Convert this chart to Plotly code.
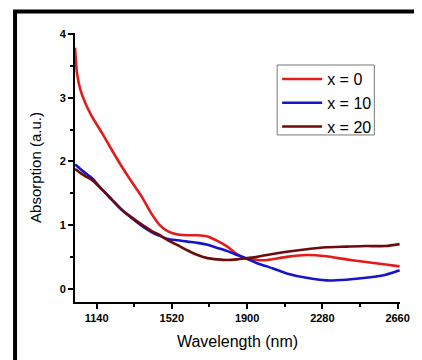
import plotly.graph_objects as go

wavelength = [1031, 1041, 1058, 1083, 1116, 1167, 1217, 1267, 1317, 1367, 1417, 1459,
              1501, 1551, 1600, 1650, 1700, 1750, 1800, 1850, 1900, 1950, 2000, 2100,
              2200, 2300, 2400, 2500, 2600, 2670]
abs_x0 = [3.79, 3.39, 3.13, 2.92, 2.71, 2.45, 2.18, 1.92, 1.68, 1.45, 1.18, 1.00,
          0.90, 0.85, 0.84, 0.84, 0.82, 0.75, 0.66, 0.54, 0.47, 0.45, 0.45, 0.50,
          0.53, 0.51, 0.46, 0.42, 0.38, 0.35]
abs_x10 = [1.95, 1.93, 1.88, 1.82, 1.74, 1.56, 1.40, 1.24, 1.11, 0.99, 0.89, 0.83,
           0.78, 0.76, 0.74, 0.72, 0.69, 0.64, 0.59, 0.53, 0.47, 0.40, 0.35, 0.24,
           0.17, 0.13, 0.14, 0.17, 0.22, 0.29]
abs_x20 = [1.88, 1.86, 1.82, 1.77, 1.71, 1.56, 1.40, 1.24, 1.12, 1.01, 0.91, 0.84,
           0.76, 0.68, 0.60, 0.53, 0.48, 0.46, 0.45, 0.46, 0.48, 0.50, 0.53, 0.58,
           0.62, 0.65, 0.66, 0.67, 0.67, 0.70]
series_names = ["x = 0", "x = 10", "x = 20"]
x_ticks = [1140, 1520, 1900, 2280, 2660]
y_ticks = [0, 1, 2, 3, 4]

colors = ["#e31b1b", "#1414c8", "#6e0c0c"]
fig = go.Figure()
for name, vals, col in zip(series_names, [abs_x0, abs_x10, abs_x20], colors):
    fig.add_trace(go.Scatter(x=wavelength, y=vals, mode="lines", name=name,
                             line=dict(color=col, width=2.6, shape="spline", smoothing=0.6)))

font_fam = "Liberation Sans, Arial, sans-serif"
fig.update_layout(
    width=414, height=352,
    margin=dict(l=67, r=19, t=25, b=58),
    paper_bgcolor="white", plot_bgcolor="white",
    font=dict(family=font_fam, color="black"),
    legend=dict(x=0.622, y=0.892, xanchor="left", yanchor="top",
                borderwidth=0, bgcolor="rgba(0,0,0,0)",
                font=dict(size=16, family=font_fam, color="black"),
                tracegroupgap=0, itemwidth=40),
    xaxis=dict(range=[1031, 2672], tickvals=x_ticks, ticktext=[str(v) for v in x_ticks],
               showgrid=False, zeroline=False, showline=True, linecolor="black", linewidth=2,
               ticks="outside", ticklen=5, tickwidth=2, tickcolor="black",
               minor=dict(dtick=190, tick0=1140, ticks="outside", ticklen=3, tickwidth=1.5, tickcolor="black"),
               tickfont=dict(size=11, family=font_fam, weight="bold"),
               title=dict(text="Wavelength (nm)", font=dict(size=16, family=font_fam), standoff=13)),
    yaxis=dict(range=[-0.21, 4.02], tickvals=y_ticks,
               showgrid=False, zeroline=False, showline=True, linecolor="black", linewidth=2,
               ticks="outside", ticklen=5, tickwidth=2, tickcolor="black",
               minor=dict(dtick=0.5, tick0=0, ticks="outside", ticklen=3, tickwidth=1.5, tickcolor="black"),
               tickfont=dict(size=11, family=font_fam, weight="bold"),
               title=dict(text="Absorption (a.u.)", font=dict(size=15, family=font_fam), standoff=14)),
    showlegend=True,
)

# legend frame
fig.add_shape(type="rect", xref="paper", yref="paper", x0=0.622, x1=0.921, y0=0.621, y1=0.881,
              line=dict(color="#777777", width=1), fillcolor="white", layer="below")

# thick black frame (left and top) of the original figure
fig.add_shape(type="line", xref="paper", yref="paper", x0=-0.1845, x1=-0.1845, y0=-0.3, y1=1.08,
              line=dict(color="black", width=4))
fig.add_shape(type="line", xref="paper", yref="paper", x0=-0.1905, x1=1.1, y0=1.08, y1=1.08,
              line=dict(color="black", width=4))

fig.write_html("out.html")
